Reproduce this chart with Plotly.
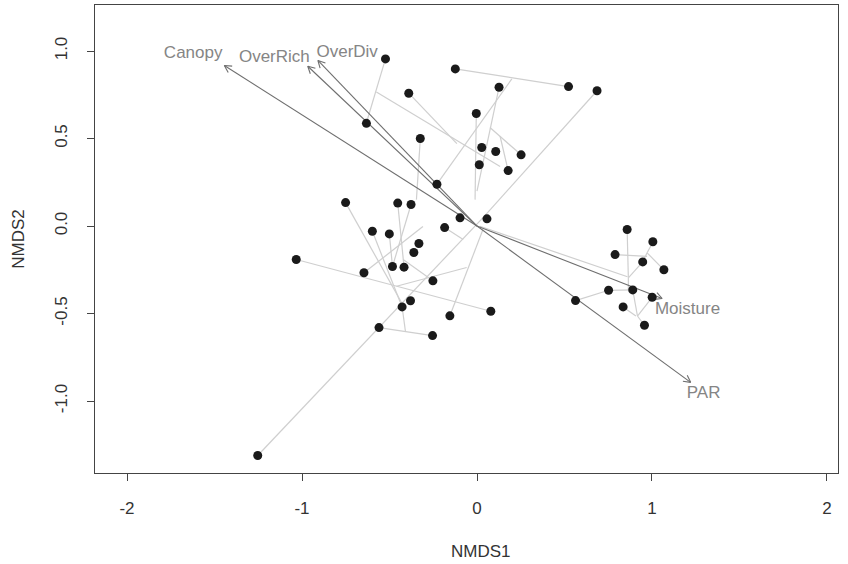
import plotly.graph_objects as go
import numpy as np

# Site scores (NMDS)
nmds1 = [-0.523, -0.124, 0.126, 0.523, 0.686, -0.390, -0.004, -0.632, -0.324, 0.027,
         0.107, 0.252, 0.013, 0.178, -0.229, -0.751, -0.453, -0.377, -0.097, 0.057,
         -0.185, -0.598, -0.501, -0.332, -0.361, -1.033, -0.483, -0.417, -0.646, -0.252,
         -0.380, -0.428, 0.079, -0.155, -0.560, -0.254, -1.253, 0.858, 1.005, 0.789,
         0.947, 1.068, 0.752, 0.890, 0.563, 1.001, 0.835, 0.957]
nmds2 = [0.955, 0.898, 0.793, 0.797, 0.773, 0.759, 0.643, 0.587, 0.500, 0.449,
         0.426, 0.407, 0.350, 0.317, 0.239, 0.134, 0.131, 0.123, 0.047, 0.041,
         -0.009, -0.030, -0.045, -0.100, -0.151, -0.191, -0.231, -0.235, -0.267, -0.313,
         -0.427, -0.462, -0.487, -0.513, -0.580, -0.626, -1.311, -0.020, -0.090, -0.163,
         -0.205, -0.250, -0.367, -0.365, -0.426, -0.407, -0.462, -0.567]

# Cluster tree segments (ordicluster) in NMDS units
seg_x0 = [1.007, 0.972, 0.972, 0.789, 0.947, 0.752, 0.752, 0.858, 0.865, 0.890, 1.001, 0.835, 0.957, 0.017,
          -0.523, -0.575, -0.390, -0.124, 0.199, 0.126, -0.004, -0.324, 0.252, 0.132, 0.686, 0.040,
          -1.033, -0.460, -0.155, -0.598, -0.751, -0.453, -0.377, -0.501, -0.646, -0.560, -0.428, -0.252, -0.185]
seg_y0 = [-0.090, -0.153, -0.153, -0.163, -0.205, -0.367, -0.367, -0.020, -0.296, -0.365, -0.407, -0.462, -0.567, -0.001,
          0.955, 0.766, 0.759, 0.898, 0.841, 0.793, 0.643, 0.500, 0.407, 0.513, 0.773, 0.054,
          -0.191, -0.344, -0.513, -0.030, 0.134, 0.131, 0.123, -0.045, -0.267, -0.580, -0.462, -0.313, -0.009]
seg_x1 = [0.972, 1.068, 0.947, 0.972, 0.865, 0.890, 0.563, 0.865, 0.865, 0.917, 0.917, 0.908, 0.917, 0.860,
          -0.628, 0.132, -0.115, 0.523, -0.229, 0.000, -0.011, -0.346, 0.074, 0.178, 0.040, -1.253,
          0.079, -0.059, 0.034, -0.428, -0.430, -0.417, -0.483, -0.483, -0.309, -0.254, -0.409, -0.422, -0.079]
seg_y1 = [-0.153, -0.250, -0.205, -0.173, -0.296, -0.365, -0.426, -0.296, -0.366, -0.514, -0.514, -0.514, -0.514, -0.290,
          0.603, 0.340, 0.471, 0.797, 0.239, 0.200, 0.151, 0.151, 0.563, 0.317, 0.054, -1.311,
          -0.487, -0.237, -0.020, -0.462, -0.440, -0.235, -0.231, -0.231, -0.003, -0.626, -0.601, -0.191, -0.077]

# Fitted environmental vectors
vec_names = ["Canopy", "OverRich", "OverDiv", "Moisture", "PAR"]
vec_x = [-1.444, -0.967, -0.909, 1.058, 1.221]
vec_y = [0.917, 0.913, 0.946, -0.414, -0.893]
lab_x = [-1.622, -1.158, -0.742, 1.203, 1.295]
lab_y = [0.986, 0.961, 0.993, -0.477, -0.959]

fig = go.Figure()

# tree segments
sx, sy = [], []
for a, b, c, d in zip(seg_x0, seg_y0, seg_x1, seg_y1):
    sx += [a, c, None]
    sy += [b, d, None]
fig.add_trace(go.Scatter(x=sx, y=sy, mode="lines",
                         line=dict(color="#cfcfcf", width=1.2), hoverinfo="skip"))

# arrows
ax, ay = [], []
head_len = 0.045
ang = np.deg2rad(28)
for vx, vy in zip(vec_x, vec_y):
    ax += [0, vx, None]
    ay += [0, vy, None]
    th = np.arctan2(vy, vx)
    for s in (1, -1):
        ax += [vx, vx - head_len * np.cos(th + s * ang), None]
        ay += [vy, vy - head_len * np.sin(th + s * ang), None]
fig.add_trace(go.Scatter(x=ax, y=ay, mode="lines",
                         line=dict(color="#6e6e6e", width=1.1), hoverinfo="skip"))

# points
fig.add_trace(go.Scatter(x=nmds1, y=nmds2, mode="markers",
                         marker=dict(color="#1a1a1a", size=9, line=dict(width=0))))

# vector labels
fig.add_trace(go.Scatter(x=lab_x, y=lab_y, mode="text", text=vec_names,
                         textfont=dict(color="#858585", size=17, family="Liberation Sans, Arial"),
                         hoverinfo="skip"))

fig.update_layout(
    width=848, height=564,
    margin=dict(l=95, r=10, t=5, b=91),
    plot_bgcolor="white", paper_bgcolor="white",
    showlegend=False,
    font=dict(family="Liberation Sans, Arial", size=17, color="#333333"),
    xaxis=dict(range=[-2.183, 2.063], tickvals=[-2, -1, 0, 1, 2], ticktext=["-2", "-1", "0", "1", "2"],
               ticks="outside", ticklen=7, tickcolor="#444", showline=True, mirror=True,
               linecolor="#444", linewidth=1, showgrid=False, zeroline=False,
               ticklabelstandoff=13),
    yaxis=dict(range=[-1.411, 1.263], tickvals=[-1, -0.5, 0, 0.5, 1],
               ticktext=["-1.0", "-0.5", "0.0", "0.5", "1.0"], tickangle=-90,
               ticks="outside", ticklen=7, tickcolor="#444", showline=True, mirror=True,
               linecolor="#444", linewidth=1, showgrid=False, zeroline=False,
               ticklabelstandoff=13),
    annotations=[
        dict(text="NMDS1", xref="paper", yref="paper", x=0.52, y=-0.167, showarrow=False,
             font=dict(size=17, color="#333"), xanchor="center", yanchor="middle"),
        dict(text="NMDS2", xref="paper", yref="paper", x=-0.104, y=0.5, showarrow=False,
             textangle=-90, font=dict(size=17, color="#333"), xanchor="center", yanchor="middle"),
    ],
)

fig.write_html("out.html", config={"displayModeBar": False})

# remove default page margin so the figure sits at the window's top-left corner
with open("out.html", "r", encoding="utf-8") as f:
    html = f.read()
html = html.replace("<head>", "<head><style>html,body{margin:0;padding:0;overflow:hidden;}</style>", 1)
with open("out.html", "w", encoding="utf-8") as f:
    f.write(html)
